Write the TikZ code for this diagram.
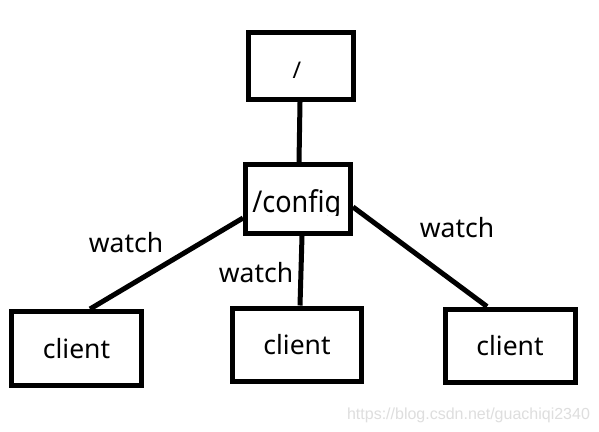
\documentclass[tikz,border=0pt]{standalone}
\usepackage{fontspec}
\setmainfont{Noto Sans}
\newfontfamily\wmfont{Liberation Sans}
\begin{document}
\begin{tikzpicture}[x=1pt,y=-1pt,
  box/.style={draw=black,line width=5pt,inner sep=0pt,fill=white},
  link/.style={draw=black,line width=5pt},
  lbl/.style={inner sep=0pt,anchor=base,font=\fontsize{26.5}{30}\selectfont},
  clienttext/.style={font=\fontsize{26.5}{30}\selectfont}]
\useasboundingbox[fill=white] (0,0) rectangle (599,431);
% boxes
\node[box,minimum width=105pt,minimum height=67pt] (top) at (301,66) {};
\node[inner sep=0pt,font=\fontsize{23}{25}\selectfont] (slash) at (297,70) {/};
\node[box,minimum width=105pt,minimum height=69pt] (config) at (298,199) {};
\begin{scope}
\clip (240,150) rectangle (360,215.5);
\node[inner sep=0pt,anchor=base,font=\fontsize{30}{32}\selectfont,xscale=0.9,transform shape] (configtext) at (296.7,212.5) {/config};
\end{scope}
\node[box,clienttext,minimum width=130pt,minimum height=74pt] (c1) at (76.5,348.5) {client};
\node[box,clienttext,minimum width=129pt,minimum height=73.5pt] (c2) at (297,344.75) {client};
\node[box,clienttext,minimum width=130pt,minimum height=73.5pt] (c3) at (510,345.75) {client};
% connectors
\draw[link] ([xshift=-1pt]top.south) -- ([xshift=1pt]config.north);
\draw[link] ([yshift=-19pt]config.west) -- ([xshift=13.5pt]c1.north);
\draw[link] ([xshift=4pt]config.south) -- ([xshift=3pt]c2.north);
\draw[link] ([yshift=-8pt]config.east) -- ([xshift=-23pt]c3.north);
% labels
\node[lbl] (w1) at (126,252) {watch};
\node[lbl] (w2) at (256,282) {watch};
\node[lbl] (w3) at (457,237) {watch};
% watermark
\node[inner sep=0pt,anchor=base,text=black!13,font=\wmfont\fontsize{16}{18}\selectfont] (wm) at (468.5,419) {https://blog.csdn.net/guachiqi2340};
\end{tikzpicture}
\end{document}
